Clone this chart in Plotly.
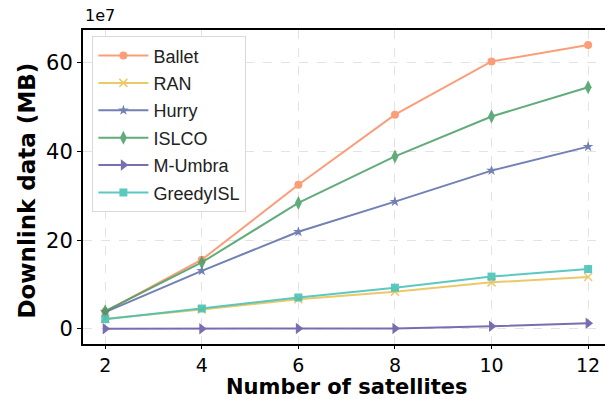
import plotly.graph_objects as go

x_vals = [2, 4, 6, 8, 10, 12]
ballet = [3.9, 15.6, 32.5, 48.3, 60.3, 64.0]
ran = [2.3, 4.4, 6.7, 8.4, 10.5, 11.7]
hurry = [3.8, 13.1, 21.9, 28.7, 35.7, 41.1]
islco = [4.0, 15.0, 28.4, 38.9, 47.9, 54.5]
m_umbra = [0.05, 0.05, 0.1, 0.1, 0.6, 1.3]
greedy = [2.2, 4.6, 7.1, 9.3, 11.8, 13.5]

series = [
    ("Ballet", ballet, "#FC8D62", "circle", 8),
    ("RAN", ran, "#E8BF50", "x-thin-open", 8),
    ("Hurry", hurry, "#5A6BA6", "star", 8),
    ("ISLCO", islco, "#479E65", "diamond-tall", 10),
    ("M-Umbra", m_umbra, "#6455A3", "triangle-right", 10),
    ("GreedyISL", greedy, "#40C0B6", "square", 8),
]

fig = go.Figure()
for name, vals, color, sym, size in series:
    fig.add_trace(go.Scatter(
        x=x_vals, y=vals, name=name, mode="lines+markers", legendgroup=name,
        line=dict(color=color, width=2),
        marker=dict(symbol=sym, size=size, color=color,
                    line=dict(color=color, width=1.5 if "x" in sym else 0)),
        opacity=0.85,
    ))

fig.update_layout(
    width=605, height=399,
    margin=dict(l=83, r=0, t=30, b=55),
    plot_bgcolor="white", paper_bgcolor="white",
    font=dict(family="DejaVu Sans", color="black"),
    showlegend=True,
    legend=dict(
        x=0.018, y=0.98, xanchor="left", yanchor="top",
        bgcolor="rgba(255,255,255,0.9)", bordercolor="#d9d9d9", borderwidth=1,
        font=dict(family="Liberation Sans, Arial", size=18, color="#222"),
        tracegroupgap=1, itemwidth=50,
    ),
    xaxis=dict(
        range=[1.54, 12.35], tickvals=x_vals, ticktext=[str(v) for v in x_vals],
        tickfont=dict(size=19), ticks="outside", ticklen=3, tickcolor="black",
        showgrid=True, gridcolor="#e3e3e3", griddash="dash", gridwidth=1,
        showline=True, linecolor="black", linewidth=2, mirror=True,
        zeroline=False, automargin=False,
    ),
    yaxis=dict(
        range=[-3.4, 67.4], tickvals=[0, 20, 40, 60],
        tickfont=dict(size=21), ticks="outside", ticklen=4, tickcolor="black",
        showgrid=True, gridcolor="#e3e3e3", griddash="dash", gridwidth=1,
        showline=True, linecolor="black", linewidth=2, mirror=True,
        zeroline=False, automargin=False,
    ),
    annotations=[
        dict(text="1e7", x=0, y=1, xref="paper", yref="paper",
             xanchor="left", yanchor="bottom", yshift=3, showarrow=False,
             font=dict(size=16, family="DejaVu Sans")),
        dict(text="<b>Number of satellites</b>", x=0.5057, y=-0.137,
             xref="paper", yref="paper", xanchor="center", yanchor="middle",
             showarrow=False, font=dict(size=21, family="DejaVu Sans")),
        dict(text="<b>Downlink data (MB)</b>", x=-0.107, y=0.489,
             xref="paper", yref="paper", xanchor="center", yanchor="middle",
             textangle=-90, showarrow=False, font=dict(size=23, family="DejaVu Sans")),
    ],
)

fig.write_html("out.html", config={"displayModeBar": False},
               post_script="document.body.style.margin='0';document.body.style.overflow='hidden';")
